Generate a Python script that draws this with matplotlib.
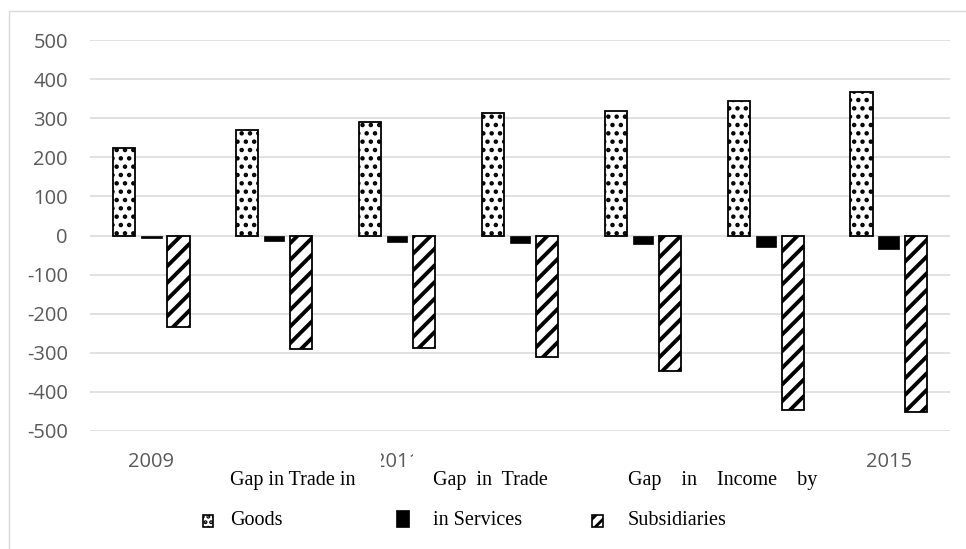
import matplotlib
matplotlib.use("Agg")
import matplotlib.pyplot as plt
from matplotlib.patches import Rectangle
import numpy as np

W, H = 966, 549

years = ["2009", "2010", "2011", "2012", "2013", "2014", "2015"]
tick_labels = ["2009", "", "2011", "", "2013", "", "2015"]
goods = [223, 270, 291, 314, 318, 344, 367]
services = [-7, -13, -17, -18, -23, -29, -34]
subsidiaries = [-235, -291, -287, -312, -346, -446, -451]

legend_line1 = ["Gap in Trade in", "Gap  in  Trade", "Gap    in    Income    by"]
legend_line2 = ["Goods", "in Services", "Subsidiaries"]

GRID = "#d9d9d9"
TICK = "#595959"

plt.rcParams["font.family"] = ["Open Sans", "DejaVu Sans"]
plt.rcParams["axes.unicode_minus"] = False


def fx(px):
    return px / W


def fy(py):
    return 1 - py / H


fig = plt.figure(figsize=(W / 100, H / 100), dpi=100)
ax = fig.add_axes([fx(90), fy(431), fx(950) - fx(90), fy(40) - fy(431)])

x = np.arange(len(years))
off, bw = 0.22, 0.18


def hatch_lw(bars, lw):
    for b in bars:
        if hasattr(b, "set_hatch_linewidth"):
            b.set_hatch_linewidth(lw)


with plt.rc_context({"hatch.linewidth": 2.0}):
    g = ax.bar(x - off, goods, bw, color="white", edgecolor="black",
               linewidth=1.3, hatch="..", zorder=3)
hatch_lw(g, 2.0)
ax.bar(x, services, 0.165, color="black", edgecolor="black", linewidth=0.5, zorder=3)
with plt.rc_context({"hatch.linewidth": 2.8}):
    s = ax.bar(x + off, subsidiaries, bw, color="white", edgecolor="black",
               linewidth=1.3, hatch="//", zorder=3)
hatch_lw(s, 2.8)

ax.set_xlim(-0.5, len(years) - 0.5)
ax.set_ylim(-500, 500)
ax.set_yticks(np.arange(-500, 501, 100))
ax.set_xticks(x)
ax.set_xticklabels(tick_labels)
ax.grid(axis="y", color=GRID, linewidth=1.1, zorder=0)
ax.set_axisbelow(True)
for sp in ax.spines.values():
    sp.set_visible(False)
ax.tick_params(axis="both", length=0, labelsize=14.5, labelcolor=TICK)
ax.tick_params(axis="y", pad=16)
ax.tick_params(axis="x", pad=15)

# outer chart border
fig.add_artist(Rectangle((fx(9), fy(560)), fx(980) - fx(9), fy(11) - fy(560),
                         transform=fig.transFigure, facecolor="none",
                         edgecolor=GRID, linewidth=1.0, zorder=1))

# legend boxes (white, cover part of the category labels like the original)
for x0, x1 in [(215, 381), (413, 575), (610, 850)]:
    fig.add_artist(Rectangle((fx(x0), fy(535)), fx(x1) - fx(x0), fy(448) - fy(535),
                             transform=fig.transFigure, facecolor="white",
                             edgecolor="none", zorder=5))

mark_x = [203, 396, 592]
text_x = [230, 433, 628]
styles = [dict(facecolor="white", edgecolor="black", hatch="...", linewidth=1.2),
          dict(facecolor="black", edgecolor="black", linewidth=0.5),
          dict(facecolor="white", edgecolor="black", hatch="///", linewidth=1.2)]
sizes = [(10, 12), (13, 17), (11, 12)]
for mx, tx, l1, l2, st, (mw, mh) in zip(mark_x, text_x, legend_line1,
                                        legend_line2, styles, sizes):
    r = Rectangle((fx(mx), fy(527)), fx(mw), fy(527 - mh) - fy(527),
                  transform=fig.transFigure, zorder=6, **st)
    if hasattr(r, "set_hatch_linewidth"):
        r.set_hatch_linewidth(2.0)
    fig.add_artist(r)
    fig.text(fx(tx), fy(485), l1, family="Liberation Serif", fontsize=14.5,
             color="black", va="baseline", ha="left", zorder=7)
    fig.text(fx(tx), fy(525), l2, family="Liberation Serif", fontsize=14.5,
             color="black", va="baseline", ha="left", zorder=7)

fig.savefig("out.png", dpi=100)
